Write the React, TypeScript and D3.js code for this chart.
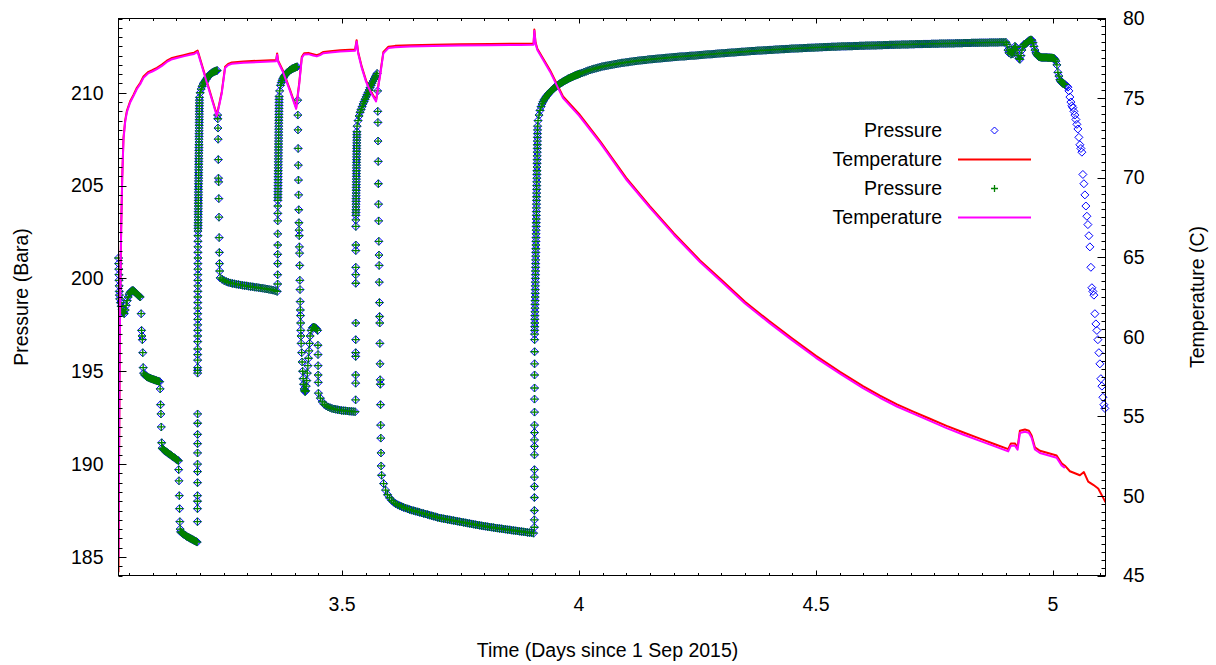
import React from 'react';
import * as d3 from 'd3';

type Seg = [number, number, number[]];

// ---------------- axes / labels ----------------
const xDomain = [3.0281, 5.111];
const pressureDomain = [184, 214];
const temperatureDomain = [45, 80];
const xTicks = [3.5, 4, 4.5, 5];
const pressureTicks = [185, 190, 195, 200, 205, 210];
const temperatureTicks = [45, 50, 55, 60, 65, 70, 75, 80];
const legendLabels = ['Pressure', 'Temperature', 'Pressure', 'Temperature'];
const xTitle = 'Time (Days since 1 Sep 2015)';
const yTitle = 'Pressure (Bara)';
const y2Title = 'Temperature (C)';

// ---------------- pressure samples (segments: start day, end day, readings) ----------------
const pS1a: Seg = [3.0281, 3.0300, [201.1, 200.8, 200.5, 200.2, 199.9, 199.6, 199.3, 199.1]];
const pS1b: Seg = [3.0306, 3.0401, [198.9, 198.7, 198.5, 198.35, 198.2, 198.15, 198.1]];
const pS1c: Seg = [3.0422, 3.0738, [198.3, 198.55, 198.8, 199.0, 199.15, 199.25, 199.3, 199.35, 199.35, 199.3, 199.25, 199.2, 199.15, 199.1, 199.05, 199.0]];
const pS2: Seg = [3.0759, 3.0802, [198.1, 197.2, 196.9, 196.7, 196.0, 195.2]];
const pS3: Seg = [3.0812, 3.1150, [194.9, 194.8, 194.75, 194.7, 194.68, 194.65, 194.63, 194.6, 194.58, 194.56, 194.54, 194.52, 194.5, 194.48, 194.46, 194.44]];
const pS4: Seg = [3.1160, 3.1192, [194.05, 193.2, 192.7, 192.0, 191.15]];
const pS5: Seg = [3.1202, 3.1546, [190.86, 190.8, 190.75, 190.7, 190.66, 190.62, 190.58, 190.54, 190.5, 190.46, 190.42, 190.38, 190.34, 190.3, 190.26, 190.22, 190.18]];
const pS6: Seg = [3.1551, 3.1582, [189.7, 189.1, 188.3, 187.6, 186.9, 186.5]];
const pS7: Seg = [3.1593, 3.1941, [186.35, 186.3, 186.26, 186.22, 186.18, 186.14, 186.1, 186.07, 186.04, 186.01, 185.98, 185.95, 185.92, 185.89, 185.86, 185.83, 185.8]];
const pS8: Seg = [3.1947, 3.1958, [186.9, 187.6, 188.0, 188.3, 189.0, 189.6, 190.0, 190.6, 191.1, 191.6, 192.2, 192.7, 194.9, 195.05, 195.2, 195.6, 195.9, 196.2, 196.6, 196.9, 197.2, 197.5, 197.8, 198.1, 198.4, 198.7, 199.0, 199.3, 199.6, 199.9, 200.2, 200.5, 200.8, 201.1, 201.4, 201.7, 202.0, 202.3, 202.55]];
const pS9: Seg = [3.1960, 3.1990, [202.7, 202.85, 203.0, 203.15, 203.3, 203.45, 203.6, 203.75, 203.9, 204.05, 204.2, 204.35, 204.5, 204.65, 204.8, 204.95, 205.1, 205.25, 205.4, 205.55, 205.7, 205.85, 206.0, 206.15, 206.3, 206.45, 206.6, 206.75, 206.9, 207.05, 207.2, 207.35, 207.5, 207.65, 207.8, 207.95, 208.1, 208.25, 208.4, 208.55, 208.7, 208.85, 209.0, 209.15, 209.3, 209.45, 209.6, 209.75]];
const pS10: Seg = [3.2004, 3.2363, [210.0, 210.2, 210.35, 210.47, 210.56, 210.63, 210.72, 210.8, 210.87, 210.93, 211.0, 211.04, 211.08, 211.11, 211.14, 211.16, 211.18, 211.2]];
const pS11: Seg = [3.2373, 3.2416, [208.8, 208.6, 208.1, 207.5, 206.4, 205.4, 205.2, 204.3, 203.3, 202.2, 201.4, 200.8, 200.4]];
const pS12: Seg = [3.2426, 3.3629, [200.03, 199.95, 199.88, 199.83, 199.79, 199.76, 199.73, 199.71, 199.69, 199.67, 199.65, 199.63, 199.61, 199.6, 199.58, 199.56, 199.55, 199.53, 199.52, 199.5, 199.48, 199.47, 199.45, 199.43, 199.41, 199.39, 199.37, 199.34, 199.3]];
const pS13: Seg = [3.3639, 3.3643, [199.7, 200.2, 200.8, 201.3, 201.8, 202.4, 203.1, 203.5, 203.9]];
const pS14: Seg = [3.3644, 3.3671, [204.2, 204.36, 204.52, 204.68, 204.84, 205.0, 205.16, 205.32, 205.48, 205.64, 205.8, 205.96, 206.12, 206.28, 206.44, 206.6, 206.76, 206.92, 207.08, 207.24, 207.4, 207.56, 207.72, 207.88, 208.04, 208.2, 208.36, 208.52, 208.68, 208.84, 209.0, 209.16, 209.32, 209.48, 209.64, 209.8]];
const pS15: Seg = [3.3682, 3.4051, [210.1, 210.4, 210.55, 210.67, 210.77, 210.85, 210.92, 210.98, 211.03, 211.08, 211.12, 211.16, 211.2, 211.23, 211.26, 211.29, 211.31, 211.33, 211.35, 211.37, 211.39, 211.4]];
const pS16: Seg = [3.4062, 3.4135, [209.6, 208.8, 208.0, 207.0, 206.1, 205.3, 204.5, 203.7, 203.0, 202.6, 202.3, 201.7, 201.36, 200.7, 199.9, 199.4, 198.75, 198.3, 198.0, 197.6, 197.2, 196.9, 196.5]];
const pS17a: Seg = [3.4146, 3.4219, [196.0, 195.5, 195.0, 194.6, 194.3, 194.05, 193.95, 193.9]];
const pS17b: Seg = [3.4230, 3.4325, [193.95, 194.2, 194.5, 194.9, 195.3, 195.7, 196.1, 196.5, 196.9]];
const pS17c: Seg = [3.4346, 3.4483, [197.2, 197.35, 197.38, 197.35, 197.3, 197.2]];
const pS18: Seg = [3.4490, 3.4496, [196.4, 195.9, 195.3, 194.8, 194.4]];
const pS19: Seg = [3.4500, 3.5274, [193.82, 193.55, 193.35, 193.22, 193.14, 193.08, 193.04, 193.0, 192.97, 192.95, 192.93, 192.91, 192.89, 192.88, 192.87, 192.86, 192.85, 192.84, 192.83, 192.82]];
const pS20: Seg = [3.5285, 3.5290, [193.46, 194.36, 194.8, 195.8, 196.0, 196.7, 197.6, 199.74, 200.2, 200.6, 201.5, 201.8, 202.8, 203.15]];
const pS21: Seg = [3.5291, 3.5312, [203.4, 203.55, 203.7, 203.85, 204.0, 204.15, 204.3, 204.45, 204.6, 204.75, 204.9, 205.05, 205.2, 205.35, 205.5, 205.65, 205.8, 205.95, 206.1, 206.25, 206.4, 206.55, 206.7, 206.85, 207.0, 207.15, 207.3, 207.45, 207.6, 207.75, 207.9]];
const pS22: Seg = [3.5316, 3.5738, [208.2, 208.5, 208.75, 208.95, 209.1, 209.25, 209.4, 209.52, 209.65, 209.78, 209.9, 210.02, 210.15, 210.28, 210.4, 210.52, 210.63, 210.74, 210.84, 210.94, 211.04]];
const pS23: Seg = [3.5749, 3.5823, [210.1, 209.0, 208.4, 207.4, 206.3, 205.1, 204.0, 203.1, 202.0, 201.26, 200.7, 199.8, 198.7, 197.95, 197.6, 196.5, 195.4, 194.54, 194.3, 193.2, 192.1, 191.4, 190.6, 189.9]];
const pS24: Seg = [3.5833, 3.9040, [
  189.4, 188.95, 188.6, 188.35, 188.18, 188.05, 187.95, 187.87, 187.81, 187.76,
  187.71, 187.67, 187.63, 187.59, 187.55, 187.52, 187.49, 187.46, 187.43, 187.4,
  187.37, 187.34, 187.31, 187.28, 187.25, 187.22, 187.19, 187.16, 187.13, 187.1,
  187.08, 187.06, 187.04, 187.02, 187.0, 186.98, 186.96, 186.94, 186.92, 186.9,
  186.88, 186.86, 186.84, 186.82, 186.8, 186.78, 186.76, 186.74, 186.72, 186.7,
  186.68, 186.66, 186.65, 186.63, 186.61, 186.6, 186.58, 186.56, 186.55, 186.53,
  186.52, 186.5, 186.49, 186.47, 186.46, 186.44, 186.43, 186.41, 186.4, 186.38,
  186.37, 186.35, 186.34, 186.32, 186.31, 186.3, 186.28]];
const pS25: Seg = [3.9057, 3.9062, [186.6, 187.0, 187.5, 188.2, 188.8, 189.3, 189.7, 190.5, 190.95, 191.3, 191.7, 192.1, 192.8, 193.5, 194.1, 194.8, 195.4, 196.05, 196.7]];
const pS26: Seg = [3.9063, 3.9125, [197.0, 197.2, 197.4, 197.6, 197.8, 198.0, 198.2, 198.4, 198.6, 198.8, 199.0, 199.2, 199.4, 199.6, 199.8, 200.0, 200.2, 200.4, 200.6, 200.8, 201.0, 201.2, 201.4, 201.6, 201.8, 202.0, 202.2, 202.4, 202.6, 202.8, 203.0, 203.2, 203.4, 203.6, 203.8, 204.0, 204.2, 204.4, 204.6, 204.8, 205.0, 205.2, 205.4, 205.6, 205.8, 206.0, 206.2, 206.4, 206.6, 206.8, 207.0, 207.2, 207.4, 207.6, 207.8, 208.0, 208.2]];
const pS27: Seg = [3.9135, 4.0021, [208.5, 208.8, 209.05, 209.25, 209.4, 209.52, 209.62, 209.7, 209.78, 209.85, 209.92, 209.98, 210.04, 210.1, 210.15, 210.2, 210.25, 210.3, 210.34, 210.38, 210.42, 210.46, 210.5, 210.53, 210.56, 210.6, 210.63, 210.66, 210.69, 210.72, 210.75, 210.78, 210.8, 210.83, 210.85, 210.88, 210.9, 210.93, 210.95, 210.97, 210.99, 211.01, 211.03]];
const pS28: Seg = [4.0063, 4.9008, [
  211.07, 211.11, 211.15, 211.19, 211.23, 211.26, 211.29, 211.32, 211.35, 211.38,
  211.41, 211.43, 211.45, 211.47, 211.49, 211.51, 211.53, 211.55, 211.57, 211.59, 211.61, 211.62, 211.64, 211.65, 211.67, 211.68, 211.7, 211.71, 211.73, 211.74, 211.75, 211.76, 211.77, 211.79, 211.8,
  211.81, 211.82, 211.83, 211.84, 211.85, 211.86, 211.87, 211.88, 211.89, 211.9, 211.91, 211.92, 211.93, 211.94, 211.95, 211.96, 211.96, 211.97, 211.98, 211.99, 212.0, 212.0, 212.01, 212.02, 212.03,
  212.04, 212.05, 212.06, 212.07, 212.07, 212.08, 212.09, 212.1, 212.11, 212.12, 212.13, 212.13, 212.14, 212.15, 212.16, 212.17, 212.17, 212.18, 212.19, 212.2, 212.21, 212.21, 212.22, 212.23, 212.24,
  212.25, 212.25, 212.26, 212.27, 212.27, 212.28, 212.29, 212.29, 212.3, 212.31, 212.31, 212.32, 212.33, 212.33, 212.34, 212.35, 212.35, 212.36, 212.36, 212.37, 212.38, 212.38, 212.39, 212.39, 212.4,
  212.4, 212.41, 212.41, 212.42, 212.42, 212.43, 212.43, 212.44, 212.44, 212.45, 212.45, 212.46, 212.46, 212.47, 212.47, 212.48, 212.48, 212.48, 212.49, 212.49, 212.5, 212.5, 212.5, 212.51, 212.51,
  212.51, 212.52, 212.52, 212.52, 212.53, 212.53, 212.53, 212.54, 212.54, 212.54, 212.55, 212.55, 212.55, 212.56, 212.56, 212.56, 212.57, 212.57, 212.57, 212.58, 212.58, 212.58, 212.59, 212.59, 212.59,
  212.6, 212.6, 212.6, 212.6, 212.61, 212.61, 212.61, 212.62, 212.62, 212.62, 212.62, 212.63, 212.63, 212.63, 212.63, 212.64, 212.64, 212.64, 212.64, 212.65, 212.65, 212.65, 212.65, 212.66, 212.66,
  212.66, 212.66, 212.67, 212.67, 212.67, 212.67, 212.68, 212.68, 212.68, 212.68, 212.69, 212.69, 212.69, 212.69, 212.7, 212.7, 212.7, 212.7, 212.7, 212.71, 212.71, 212.71, 212.71, 212.71, 212.72, 212.72, 212.72, 212.72]];
const pS29: Seg = [4.9030, 5.0253, [212.6, 212.3, 212.15, 212.3, 212.08, 212.2, 212.1, 212.35, 212.5, 212.45, 212.3, 212.0, 211.85, 211.8, 212.0, 212.3, 212.5, 212.6, 212.62, 212.65, 212.7, 212.75, 212.8, 212.83, 212.85, 212.83, 212.7, 212.5, 212.3, 212.15, 212.05, 211.98, 211.94, 211.92, 211.91, 211.9, 211.9, 211.9, 211.9, 211.9, 211.9, 211.89, 211.89, 211.89, 211.88, 211.88, 211.87, 211.86, 211.8, 211.7, 211.5, 211.1, 210.9, 210.7, 210.6, 210.55, 210.5, 210.47, 210.45]];
// only the diamond gauge continues after the plus gauge stops
const pBlueTail: Seg = [5.0274, 5.1097, [210.4, 210.35, 210.3, 210.1, 209.77, 209.5, 209.3, 209.2, 209.0, 208.8, 208.56, 208.3, 208.05, 207.6, 207.2, 207.0, 206.8, 205.6, 205.1, 204.5, 203.9, 203.35, 202.9, 202.3, 201.7, 200.6, 199.5, 199.3, 199.1, 198.1, 197.55, 197.2, 196.7, 196.0, 195.4, 194.6, 194.2, 193.6, 193.2, 193.0]];

const pressureShared: Seg[] = [pS1a, pS1b, pS1c, pS2, pS3, pS4, pS5, pS6, pS7, pS8, pS9, pS10, pS11, pS12, pS13, pS14, pS15, pS16, pS17a, pS17b, pS17c, pS18, pS19, pS20, pS21, pS22, pS23, pS24, pS25, pS26, pS27, pS28, pS29];

// ---------------- temperature ----------------
const tempTime = [
  3.0281, 3.0288, 3.0300, 3.0316, 3.0338, 3.0359, 3.0386, 3.0422, 3.0458, 3.0527,
  3.0597, 3.0669, 3.0738, 3.0808, 3.0914, 3.0992, 3.1091, 3.1197, 3.1302, 3.1393,
  3.1513, 3.1652, 3.1793, 3.1877, 3.1951, 3.2356, 3.2405, 3.2461, 3.2531, 3.2595,
  3.2673, 3.2918, 3.3270, 3.3608, 3.3629, 3.3650, 3.3755, 3.3903, 3.4030, 3.4093,
  3.4150, 3.4198, 3.4289, 3.4388, 3.4466, 3.4536, 3.4606, 3.4747, 3.4958, 3.5274,
  3.5306, 3.5338, 3.5416, 3.5506, 3.5612, 3.5717, 3.5759, 3.5802, 3.5871, 3.5977,
  3.6118, 3.6435, 3.6926, 3.7489, 3.8122, 3.8755, 3.9040, 3.9057, 3.9082, 3.9120,
  3.9388, 3.9662, 4.0000, 4.0443, 4.0991, 4.1498, 4.2004, 4.2553, 4.2996, 4.3502,
  4.4008, 4.4494, 4.5000, 4.5506, 4.5992, 4.6350, 4.6709, 4.7053, 4.7405, 4.7757,
  4.8101, 4.8460, 4.8776, 4.9057, 4.9114, 4.9198, 4.9255, 4.9304, 4.9409, 4.9494,
  4.9551, 4.9620, 4.9726, 4.9895, 5.0078, 5.0184, 5.0253, 5.0359, 5.0570, 5.0654,
  5.0745, 5.0851, 5.0956, 5.1076, 5.1110];
const tempRed = [
  45.2, 50.0, 56.0, 62.5, 67.0, 70.0, 72.5, 73.6, 74.2, 74.8,
  75.2, 75.65, 75.95, 76.35, 76.65, 76.75, 76.9, 77.1, 77.35, 77.5,
  77.6, 77.7, 77.8, 77.85, 77.98, 73.95, 74.6, 75.4, 76.97, 77.15,
  77.24, 77.3, 77.35, 77.4, 77.8, 77.35, 76.7, 75.5, 74.4, 75.9,
  77.6, 77.82, 77.84, 77.76, 77.7, 77.78, 77.9, 77.95, 78.0, 78.05,
  78.64, 77.9, 76.96, 76.1, 75.4, 74.87, 75.7, 76.5, 77.9, 78.22,
  78.28, 78.32, 78.35, 78.38, 78.4, 78.42, 78.43, 79.31, 78.5, 78.1,
  76.75, 75.1, 74.0, 72.3, 70.0, 68.2, 66.5, 64.8, 63.6, 62.2,
  61.0, 59.9, 58.8, 57.8, 56.9, 56.3, 55.75, 55.3, 54.85, 54.4,
  54.0, 53.6, 53.25, 52.94, 53.3, 53.3, 53.05, 54.1, 54.17, 54.1,
  53.8, 53.06, 52.84, 52.7, 52.54, 52.05, 51.9, 51.55, 51.3, 51.5,
  50.9, 50.7, 50.47, 49.8, 49.6];
const tempMagenta = [
  46.1, 49.8, 55.8, 62.3, 66.8, 69.85, 72.4, 73.5, 74.12, 74.72,
  75.12, 75.57, 75.87, 76.27, 76.57, 76.67, 76.82, 77.02, 77.27, 77.42,
  77.52, 77.62, 77.72, 77.77, 77.9, 73.87, 74.52, 75.32, 76.89, 77.07,
  77.16, 77.22, 77.27, 77.32, 77.72, 77.27, 76.62, 75.42, 74.32, 75.82,
  77.52, 77.74, 77.76, 77.68, 77.62, 77.7, 77.82, 77.87, 77.92, 77.97,
  78.56, 77.82, 76.88, 76.02, 75.32, 74.79, 75.62, 76.42, 77.82, 78.14,
  78.2, 78.24, 78.27, 78.3, 78.32, 78.34, 78.35, 79.23, 78.42, 78.02,
  76.66, 75.0, 73.9, 72.2, 69.9, 68.1, 66.4, 64.7, 63.49, 62.09,
  60.89, 59.79, 58.68, 57.68, 56.78, 56.17, 55.62, 55.17, 54.72, 54.26,
  53.86, 53.46, 53.11, 52.8, 53.16, 53.16, 52.91, 53.96, 54.03, 53.96,
  53.66, 52.92, 52.7, 52.56, 52.4, 51.91, 51.76];

// ---------------- helpers ----------------
function expand(segs: Seg[]): [number, number][] {
  const out: [number, number][] = [];
  for (const [t0, t1, vals] of segs) {
    const n = vals.length;
    vals.forEach((v, i) => out.push([n > 1 ? t0 + ((t1 - t0) * i) / (n - 1) : t0, v]));
  }
  return out;
}

const FONT = "'Liberation Sans', Arial, Helvetica, sans-serif";
const FS = 19.5;

export default function App() {
  const L = 118.5, R = 1105.5, T = 18.5, B = 575.5;
  const x = d3.scaleLinear().domain(xDomain).range([L, R]);
  const yP = d3.scaleLinear().domain(pressureDomain).range([B, T]);
  const yT = d3.scaleLinear().domain(temperatureDomain).range([B, T]);

  const shared = expand(pressureShared);
  const bluePts = shared.concat(expand([pBlueTail]));
  const greenPts = shared;

  const hd = 4; // diamond half size
  const hp = 4; // plus half size
  const diamondPath = bluePts
    .map(([t, p]) => {
      const cx = x(t), cy = yP(p);
      return `M${cx.toFixed(2)},${(cy - hd).toFixed(2)}L${(cx + hd).toFixed(2)},${cy.toFixed(2)}L${cx.toFixed(2)},${(cy + hd).toFixed(2)}L${(cx - hd).toFixed(2)},${cy.toFixed(2)}Z`;
    })
    .join('');
  const plusPath = greenPts
    .map(([t, p]) => {
      const cx = x(t), cy = yP(p);
      return `M${(cx - hp).toFixed(2)},${cy.toFixed(2)}H${(cx + hp).toFixed(2)}M${cx.toFixed(2)},${(cy - hp).toFixed(2)}V${(cy + hp).toFixed(2)}`;
    })
    .join('');

  const line = d3.line<[number, number]>().x((d) => x(d[0])).y((d) => yT(d[1]));
  const redPath = line(tempTime.map((t, i) => [t, tempRed[i]] as [number, number])) || '';
  const magPath = line(tempMagenta.map((v, i) => [tempTime[i], v] as [number, number])) || '';

  const xMinor = d3.range(61, 103).map((i) => i * 0.05).filter((v) => v > xDomain[0] && v < xDomain[1] && Math.abs(v * 2 - Math.round(v * 2)) > 1e-6);
  const pMinor = d3.range(368, 429).map((i) => i * 0.5).filter((v) => v % 5 !== 0);
  const tMinor = d3.range(90, 161).map((i) => i * 0.5).filter((v) => v % 5 !== 0);

  const legendRows = [130.5, 159.5, 188.5, 217.5];
  const lx = 994.5;

  return (
    <svg width={1216} height={665} style={{ position: 'absolute', left: 0, top: 0, background: '#fff' }} fontFamily={FONT}>
      <defs>
        <clipPath id="plotClip">
          <rect x={L} y={T} width={R - L} height={B - T} />
        </clipPath>
      </defs>
      <rect x={0} y={0} width={1216} height={665} fill="#fff" />

      {/* data */}
      <path d={diamondPath} fill="none" stroke="#0000ff" strokeWidth={1} />
      <path d={redPath} fill="none" stroke="#ff0000" strokeWidth={2} clipPath="url(#plotClip)" strokeLinejoin="round" />
      <path d={plusPath} fill="none" stroke="#008000" strokeWidth={1.3} />
      <path d={magPath} fill="none" stroke="#ff00ff" strokeWidth={2} clipPath="url(#plotClip)" strokeLinejoin="round" />

      {/* ticks */}
      <g stroke="#000" strokeWidth={1}>
        {pressureTicks.map((v) => (
          <line key={'pm' + v} x1={L} x2={L + 8} y1={Math.round(yP(v)) + 0.5} y2={Math.round(yP(v)) + 0.5} />
        ))}
        {pMinor.map((v) => (
          <line key={'pn' + v} x1={L} x2={L + 4} y1={Math.round(yP(v)) + 0.5} y2={Math.round(yP(v)) + 0.5} />
        ))}
        {temperatureTicks.map((v) => (
          <line key={'tm' + v} x1={R - 8} x2={R} y1={Math.round(yT(v)) + 0.5} y2={Math.round(yT(v)) + 0.5} />
        ))}
        {tMinor.map((v) => (
          <line key={'tn' + v} x1={R - 4} x2={R} y1={Math.round(yT(v)) + 0.5} y2={Math.round(yT(v)) + 0.5} />
        ))}
        {xTicks.map((v) => (
          <g key={'xm' + v}>
            <line x1={Math.round(x(v)) + 0.5} x2={Math.round(x(v)) + 0.5} y1={B} y2={B - 5} />
            <line x1={Math.round(x(v)) + 0.5} x2={Math.round(x(v)) + 0.5} y1={T} y2={T + 5} />
          </g>
        ))}
        {xMinor.map((v) => (
          <g key={'xn' + v}>
            <line x1={Math.round(x(v)) + 0.5} x2={Math.round(x(v)) + 0.5} y1={B} y2={B - 2.5} />
            <line x1={Math.round(x(v)) + 0.5} x2={Math.round(x(v)) + 0.5} y1={T} y2={T + 2.5} />
          </g>
        ))}
      </g>
      <rect x={L} y={T} width={R - L} height={B - T} fill="none" stroke="#000" strokeWidth={1} />

      {/* tick labels */}
      <g fontSize={FS} fill="#000">
        {pressureTicks.map((v) => (
          <text key={'pl' + v} x={103.5} y={yP(v)} dy="0.35em" textAnchor="end">{v}</text>
        ))}
        {temperatureTicks.map((v) => (
          <text key={'tl' + v} x={1123} y={yT(v)} dy="0.35em" textAnchor="start">{v}</text>
        ))}
        {xTicks.map((v) => (
          <text key={'xl' + v} x={x(v)} y={611} textAnchor="middle">{String(v)}</text>
        ))}
      </g>

      {/* titles */}
      <text x={607.5} y={657} fontSize={FS} textAnchor="middle">{xTitle}</text>
      <text transform="translate(21,297) rotate(-90)" fontSize={FS} textAnchor="middle" dy="0.35em">{yTitle}</text>
      <text transform="translate(1197,297) rotate(-90)" fontSize={FS} textAnchor="middle" dy="0.35em">{y2Title}</text>

      {/* legend */}
      <g fontSize={FS}>
        {legendLabels.map((lab, i) => (
          <text key={'lg' + i} x={942} y={legendRows[i]} dy="0.35em" textAnchor="end">{lab}</text>
        ))}
        <path d={`M${lx},${legendRows[0] - 3.5}L${lx + 3.5},${legendRows[0]}L${lx},${legendRows[0] + 3.5}L${lx - 3.5},${legendRows[0]}Z`} fill="none" stroke="#0000ff" />
        <line x1={958} x2={1031} y1={legendRows[1]} y2={legendRows[1]} stroke="#ff0000" strokeWidth={2} />
        <path d={`M${lx - 3.5},${legendRows[2]}H${lx + 3.5}M${lx},${legendRows[2] - 3.5}V${legendRows[2] + 3.5}`} fill="none" stroke="#008000" strokeWidth={1.3} />
        <line x1={958} x2={1031} y1={legendRows[3]} y2={legendRows[3]} stroke="#ff00ff" strokeWidth={2} />
      </g>
    </svg>
  );
}
